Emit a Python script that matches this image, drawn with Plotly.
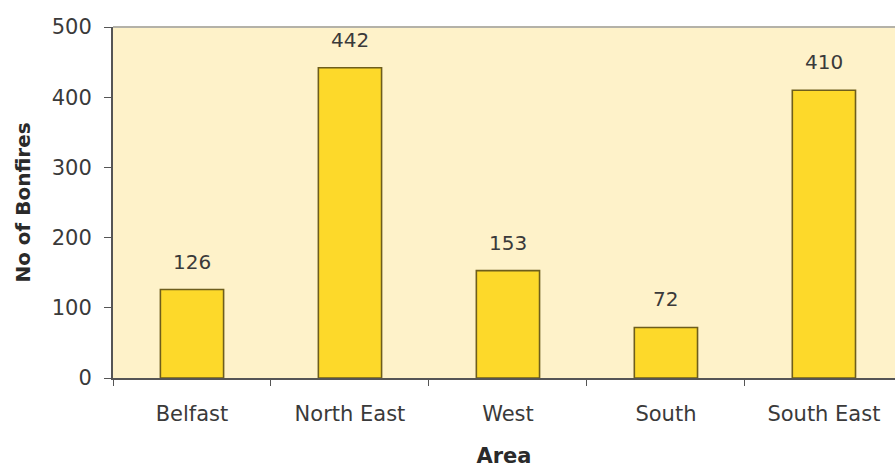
import plotly.graph_objects as go

# Bonfire counts by area
areas = ["Belfast", "North East", "West", "South", "South East"]
bonfires = [126, 442, 153, 72, 410]
y_ticks = [0, 100, 200, 300, 400, 500]

FONT = "DejaVu Sans"
TEXT = "#3a3a3a"

fig = go.Figure()
fig.add_trace(go.Bar(
    x=areas,
    y=bonfires,
    width=0.4,
    marker=dict(color="#FDD92A", line=dict(color="#6E5E1C", width=1.6)),
    hoverinfo="skip",
))

# value labels above each bar
for a, v in zip(areas, bonfires):
    fig.add_annotation(
        x=a, y=v, text=str(v), showarrow=False,
        yanchor="bottom", yshift=14,
        font=dict(family=FONT, size=20, color=TEXT),
    )

# light frame along the top of the plot area
fig.add_shape(type="line", xref="paper", yref="paper",
              x0=0, x1=1, y0=1, y1=1,
              line=dict(color="#B4B2A8", width=2))

fig.update_layout(
    width=895, height=468,
    margin=dict(l=113, r=0, t=27, b=90),
    paper_bgcolor="white",
    plot_bgcolor="#FEF2C9",
    showlegend=False,
    font=dict(family=FONT, size=21, color=TEXT),
)
fig.update_xaxes(
    range=[-0.5, 4.45],
    showline=True, linecolor="#555555", linewidth=2,
    ticks="outside", tickson="boundaries", ticklen=6, tickcolor="#555555",
    ticklabelstandoff=16,
    showgrid=False,
    tickfont=dict(family=FONT, size=21, color=TEXT),
    title=dict(text="<b>Area</b>", font=dict(family=FONT, size=21, color="#2a2a2a"), standoff=23),
)
fig.update_yaxes(
    range=[0, 500], tickvals=y_ticks,
    showline=True, linecolor="#555555", linewidth=2,
    ticks="outside", ticklen=7, tickcolor="#555555",
    ticklabelstandoff=8,
    showgrid=False, zeroline=False,
    tickfont=dict(family=FONT, size=21, color=TEXT),
    title=dict(text="<b>No of Bonfires</b>", font=dict(family=FONT, size=20, color="#2a2a2a"), standoff=16),
)

fig.write_html("out.html")
